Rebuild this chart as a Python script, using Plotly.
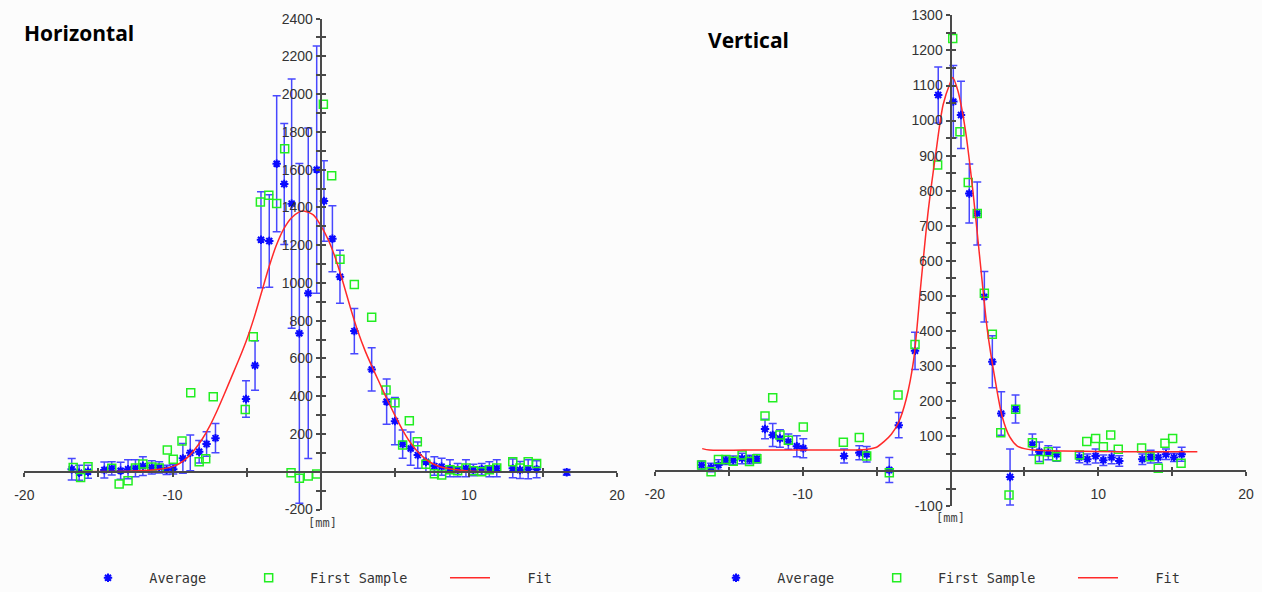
import plotly.graph_objects as go

# ---------------- Horizontal profile ----------------
h_avg_x = [-16.8, -16.3, -15.7, -14.6, -14.1, -13.5, -13.0, -12.5, -12.0, -11.4, -10.9, -10.4, -9.95, -9.3,
           -8.8, -8.2, -7.7, -7.1, -5.04, -4.43, -4.03, -3.47, -2.97, -2.46, -1.96, -1.44, -0.84, -0.27,
           0.22, 0.79, 1.30, 2.27, 3.44, 4.45, 5.01, 5.53, 6.07, 6.55, 7.1, 7.67, 8.16, 8.72, 9.24, 9.8,
           10.3, 10.86, 11.38, 11.88, 12.96, 13.45, 14.0, 14.57, 16.6]
h_avg_y = [13, -5, 0, 9, 18, 5, 13, 18, 30, 23, 23, 10, 13, 71,
           100, 106, 147, 178, 385, 563, 1229, 1222, 1631, 1524, 1420, 733, 945, 1600,
           1434, 1234, 1033, 745, 542, 371, 268, 146, 123, 88, 53, 30, 27, 18, 9, 18,
           9, 13, 13, 18, 18, 9, 13, 13, -3]
h_avg_err = [57, 40, 35, 42, 35, 45, 50, 45, 50, 35, 30, 25, 25, 79,
             95, 60, 65, 78, 97, 131, 254, 245, 360, 320, 660, 900, 875, 655,
             213, 175, 140, 120, 115, 120, 125, 75, 88, 70, 53, 49, 45, 45, 35, 45,
             30, 30, 40, 45, 50, 45, 50, 45, 15]

h_first_x = [-16.7, -16.2, -15.7, -14.1, -13.6, -13.0, -12.5, -12.0, -11.4, -10.9, -10.35, -9.95, -9.36,
             -8.77, -8.2, -7.76, -7.25, -5.09, -4.55, -4.07, -3.5, -2.97, -2.43, -2.0, -1.44, -0.84,
             -0.27, 0.18, 0.74, 1.3, 2.27, 3.44, 4.41, 5.01, 5.53, 5.98, 6.52, 7.1, 7.67, 8.16, 8.72,
             9.24, 9.8, 10.3, 10.86, 11.38, 11.88, 12.96, 13.45, 14.0, 14.57]
h_first_y = [23, -30, 26, 18, -65, -48, 20, 41, 25, 20, 115, 66, 163,
             418, 53, 69, 397, 330, 715, 1428, 1464, 1421, 1711, -5, -35, -23,
             -12, 1947, 1568, 1125, 992, 818, 433, 365, 141, 270, 159, 40, -10, -17, 10,
             5, 20, 5, 0, 10, 20, 53, 20, 53, 44]

h_fit_x = [-16.8, -15, -13, -12, -11, -10, -9.5, -9, -8.5, -8, -7.5, -7, -6.5, -6, -5.5, -5, -4.5,
           -4, -3.5, -3, -2.5, -2, -1.5, -1.15, -0.5, 0, 0.5, 1, 1.5, 2, 2.5, 3, 3.5, 4, 4.5, 5,
           5.5, 6, 6.5, 7, 7.5, 8, 9, 10, 11, 12, 14, 16.6]
h_fit_y = [0, 1, 3, 6, 12, 27, 45, 75, 118, 172, 240, 322, 412, 505, 598, 698, 815,
           948, 1082, 1198, 1285, 1343, 1374, 1381, 1360, 1305, 1230, 1130, 1005, 870, 745, 640, 550, 465, 380, 300,
           225, 160, 110, 72, 45, 28, 12, 4, 1, 0, 0, 0]

# ---------------- Vertical profile ----------------
v_avg_x = [-16.84, -16.2, -15.7, -15.2, -14.7, -14.1, -13.6, -13.1, -12.55, -12.03, -11.54, -10.97,
           -10.4, -9.96, -7.2, -6.17, -5.67, -4.14, -3.5, -2.4, -0.83, 0.19, 0.71, 1.27, 1.81, 2.29,
           2.83, 3.43, 4.03, 4.4, 5.54, 6.01, 6.62, 7.18, 8.72, 9.26, 9.82, 10.34, 10.9, 11.42, 12.98,
           13.54, 14.06, 14.58, 15.12, 15.64]
v_avg_y = [17, 10, 17, 31, 31, 36, 33, 35, 120, 103, 93, 84,
           71, 65, 43, 52, 48, 3, 131, 343, 1073, 1054, 1016, 792, 735, 497,
           312, 164, -17, 177, 76, 55, 52, 48, 39, 34, 43, 31, 39, 29, 34,
           41, 39, 48, 39, 48]
v_avg_err = [12, 12, 15, 12, 12, 15, 12, 12, 28, 33, 25, 22,
             30, 27, 20, 20, 22, 36, 36, 53, 80, 103, 96, 84, 90, 72,
             74, 62, 80, 40, 30, 28, 20, 20, 15, 15, 20, 15, 18, 15, 15,
             18, 15, 15, 12, 20]

v_first_x = [-16.84, -16.2, -15.7, -15.2, -14.7, -14.1, -13.6, -13.1, -12.55, -12.03, -11.54, -10.97,
             -9.96, -7.25, -6.17, -5.67, -4.14, -3.55, -2.4, -0.87, 0.15, 0.64, 1.2, 1.81, 2.29, 2.83,
             3.4, 3.96, 4.41, 5.54, 6.01, 6.62, 7.18, 8.72, 9.22, 9.82, 10.34, 10.84, 11.35, 12.93,
             13.5, 14.06, 14.51, 15.03, 15.6]
v_first_y = [17, -2, 33, 33, 28, 46, 27, 35, 157, 209, 103, 88,
             126, 82, 96, 43, -5, 217, 361, 873, 1234, 968, 823, 735, 507, 390,
             109, -68, 176, 81, 33, 55, 41, 46, 84, 93, 69, 103, 62, 66,
             41, 8, 79, 93, 22]

v_fit_x = [-16.8, -16.3, -14, -12, -10, -8, -6, -5.5, -5, -4.5, -4, -3.5, -3, -2.5, -2, -1.5, -1,
           -0.5, 0, 0.15, 0.5, 1, 1.5, 2, 2.5, 3, 3.5, 4, 4.5, 5, 5.6, 7.6, 10, 13, 16.7]
v_fit_y = [64, 60, 60, 60, 60, 60, 61, 63, 68, 84, 105, 140, 205, 315, 535, 745, 905,
           1045, 1110, 1123, 1085, 975, 805, 600, 400, 265, 155, 98, 72, 64, 60, 57, 56, 55, 55]

# ---------------- Tick labels ----------------
x_tickvals = [-20, -15, -10, -5, 0, 5, 10, 15, 20]
x_ticktext = ["-20", "", "-10", "", "", "", "10", "", "20"]
h_y_tickvals = list(range(-200, 2401, 100))
h_y_ticktext = [str(v) if v % 200 == 0 and v != 0 else "" for v in h_y_tickvals]
v_y_tickvals = list(range(-100, 1301, 50))
v_y_ticktext = [str(v) if v % 100 == 0 and v != 0 else "" for v in v_y_tickvals]

# ---------------- Style ----------------
W, H = 1262, 592
BLUE = "#0a0aff"
ERR_BLUE = "rgba(40,40,255,0.85)"
GREEN = "#22ee22"
RED = "#ff2a2a"
AXIS = "#4a4a4a"
TICK_FONT = dict(family="Liberation Sans, Arial, sans-serif", size=14, color="#333333")
LEG_FONT = dict(family="DejaVu Sans Mono, monospace", size=13.5, color="#333333")
NB = "\u00a0"


def px_x(p):
    return p / W


def px_y(p):
    return (H - p) / H


fig = go.Figure()


def add_panel(xa, ya, leg, ax, ay, aerr, fx, fy, gx, gy):
    fig.add_trace(go.Scatter(
        x=ax, y=ay, mode="markers", name=NB * 2 + "Average" + NB * 4, xaxis=xa, yaxis=ya, legend=leg,
        marker=dict(symbol="asterisk", size=7, color=BLUE, line=dict(color=BLUE, width=2)),
        error_y=dict(type="data", array=aerr, visible=True, color=ERR_BLUE, thickness=1.5, width=4),
    ))
    fig.add_trace(go.Scatter(
        x=fx, y=fy, mode="markers", name=NB * 2 + "First Sample" + NB * 4, xaxis=xa, yaxis=ya, legend=leg,
        marker=dict(symbol="square-open", size=8, color=GREEN, line=dict(color=GREEN, width=1.5)),
    ))
    fig.add_trace(go.Scatter(
        x=gx, y=gy, mode="lines", name=NB * 4 + "Fit", xaxis=xa, yaxis=ya, legend=leg,
        line=dict(color=RED, width=1.5, shape="spline", smoothing=0.8),
    ))


add_panel("x", "y", "legend", h_avg_x, h_avg_y, h_avg_err, h_first_x, h_first_y, h_fit_x, h_fit_y)
add_panel("x2", "y2", "legend2", v_avg_x, v_avg_y, v_avg_err, v_first_x, v_first_y, v_fit_x, v_fit_y)

# empty traces so the inner tick overlays get drawn
for xa, ya in (("x3", "y3"), ("x4", "y4")):
    fig.add_trace(go.Scatter(x=[None], y=[None], xaxis=xa, yaxis=ya, showlegend=False, hoverinfo="skip"))

# panel geometry (pixels of the page)
h_dom_x = [px_x(24.3), px_x(617.1)]
h_dom_y = [px_y(509.5), px_y(18.6)]
v_dom_x = [px_x(654.9), px_x(1246.1)]
v_dom_y = [px_y(506.1), px_y(15.4)]
h_origin = (px_x(320.7), px_y(471.7))
v_origin = (px_x(950.5), px_y(471.0))

base = dict(showgrid=False, zeroline=False, tickcolor=AXIS, tickwidth=1.5, ticklen=4,
            tickfont=TICK_FONT, fixedrange=True, automargin=False)

fig.update_layout(
    width=W, height=H,
    margin=dict(l=0, r=0, t=0, b=0, autoexpand=False),
    paper_bgcolor="#fcfcfc", plot_bgcolor="rgba(0,0,0,0)",
    showlegend=True,
    xaxis=dict(base, domain=h_dom_x, range=[-20, 20], anchor="free", position=h_origin[1],
               showline=True, linecolor=AXIS, linewidth=2, ticks="outside",
               tickmode="array", tickvals=x_tickvals, ticktext=x_ticktext, ticklabelstandoff=6),
    yaxis=dict(base, domain=h_dom_y, range=[-200, 2400], anchor="free", position=h_origin[0],
               showline=True, linecolor=AXIS, linewidth=2, ticks="outside",
               tickmode="array", tickvals=h_y_tickvals, ticktext=h_y_ticktext),
    xaxis2=dict(base, domain=v_dom_x, range=[-20, 20], anchor="free", position=v_origin[1],
                showline=True, linecolor=AXIS, linewidth=2, ticks="outside",
                tickmode="array", tickvals=x_tickvals, ticktext=x_ticktext, ticklabelstandoff=6),
    yaxis2=dict(base, domain=v_dom_y, range=[-100, 1300], anchor="free", position=v_origin[0],
                showline=True, linecolor=AXIS, linewidth=2, ticks="outside",
                tickmode="array", tickvals=v_y_tickvals, ticktext=v_y_ticktext),
    xaxis3=dict(base, overlaying="x", range=[-20, 20], anchor="free", position=h_origin[1],
                ticks="inside", showticklabels=False, showline=False,
                tickmode="array", tickvals=x_tickvals),
    yaxis3=dict(base, overlaying="y", range=[-200, 2400], anchor="free", position=h_origin[0],
                ticks="inside", showticklabels=False, showline=False,
                tickmode="array", tickvals=h_y_tickvals),
    xaxis4=dict(base, overlaying="x2", range=[-20, 20], anchor="free", position=v_origin[1],
                ticks="inside", showticklabels=False, showline=False,
                tickmode="array", tickvals=x_tickvals),
    yaxis4=dict(base, overlaying="y2", range=[-100, 1300], anchor="free", position=v_origin[0],
                ticks="inside", showticklabels=False, showline=False,
                tickmode="array", tickvals=v_y_tickvals),
    legend=dict(orientation="h", x=px_x(83), y=px_y(578), xanchor="left", yanchor="middle",
                itemwidth=40, font=LEG_FONT, bgcolor="rgba(0,0,0,0)",
                itemclick=False, itemdoubleclick=False),
    legend2=dict(orientation="h", x=px_x(711), y=px_y(578), xanchor="left", yanchor="middle",
                 itemwidth=40, font=LEG_FONT, bgcolor="rgba(0,0,0,0)",
                 itemclick=False, itemdoubleclick=False),
)

TITLE_FONT = dict(family="Open Sans, Noto Sans, sans-serif", size=21, color="#000000", weight="bold")
UNIT_FONT = dict(family="DejaVu Sans Mono, monospace", size=12, color="#444444")
fig.add_annotation(text="Horizontal", xref="paper", yref="paper", x=px_x(22), y=px_y(33),
                   xanchor="left", yanchor="middle", showarrow=False, font=TITLE_FONT)
fig.add_annotation(text="Vertical", xref="paper", yref="paper", x=px_x(706), y=px_y(40),
                   xanchor="left", yanchor="middle", showarrow=False, font=TITLE_FONT)
fig.add_annotation(text="[mm]", xref="paper", yref="paper", x=px_x(322), y=px_y(523),
                   xanchor="center", yanchor="middle", showarrow=False, font=UNIT_FONT)
fig.add_annotation(text="[mm]", xref="paper", yref="paper", x=px_x(950), y=px_y(518),
                   xanchor="center", yanchor="middle", showarrow=False, font=UNIT_FONT)

fig.write_html("out.html")
